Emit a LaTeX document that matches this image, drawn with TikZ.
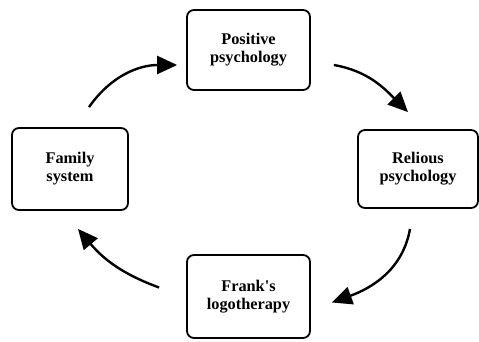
\documentclass[tikz,border=0pt]{standalone}
\usepackage{fontspec}
\setmainfont{Liberation Serif}
\usetikzlibrary{arrows.meta}

\begin{document}
\begin{tikzpicture}[x=1pt,y=1pt,
  box/.style={draw,line width=1.8pt,rounded corners=7pt,align=center,
    font=\fontsize{16.3}{18}\selectfont\bfseries,inner sep=0pt},
  cyc/.style={line width=2.4pt,-{Triangle[length=20pt,width=18pt]}}]
\useasboundingbox (0,0) rectangle (479,341);
\node[box,minimum width=123,minimum height=80] (pos) at (248.5,291) {Positive\\psychology};
\node[box,minimum width=120,minimum height=78] (rel) at (418,172) {Relious\\psychology};
\node[box,minimum width=123,minimum height=83] (frk) at (248.5,44.5) {Frank\textquotesingle s\\logotherapy};
\node[box,minimum width=116,minimum height=82] (fam) at (70,172) {Family\\system};
% arrows round the cycle
\draw[cyc] ([shift={(19,20)}]fam.north) to[out=55,in=180] ([shift={(-9,-15)}]pos.west);
\draw[cyc] ([shift={(23,-15)}]pos.east) to[out=-10,in=135] ([shift={(-10,17)}]rel.north);
\draw[cyc] ([shift={(-8,-20)}]rel.south) to[out=-100,in=20] ([shift={(21,-6)}]frk.east);
\draw[cyc] ([shift={(-27,9)}]frk.west) to[out=160,in=-50] ([shift={(8,-18)}]fam.south);
\end{tikzpicture}
\end{document}
